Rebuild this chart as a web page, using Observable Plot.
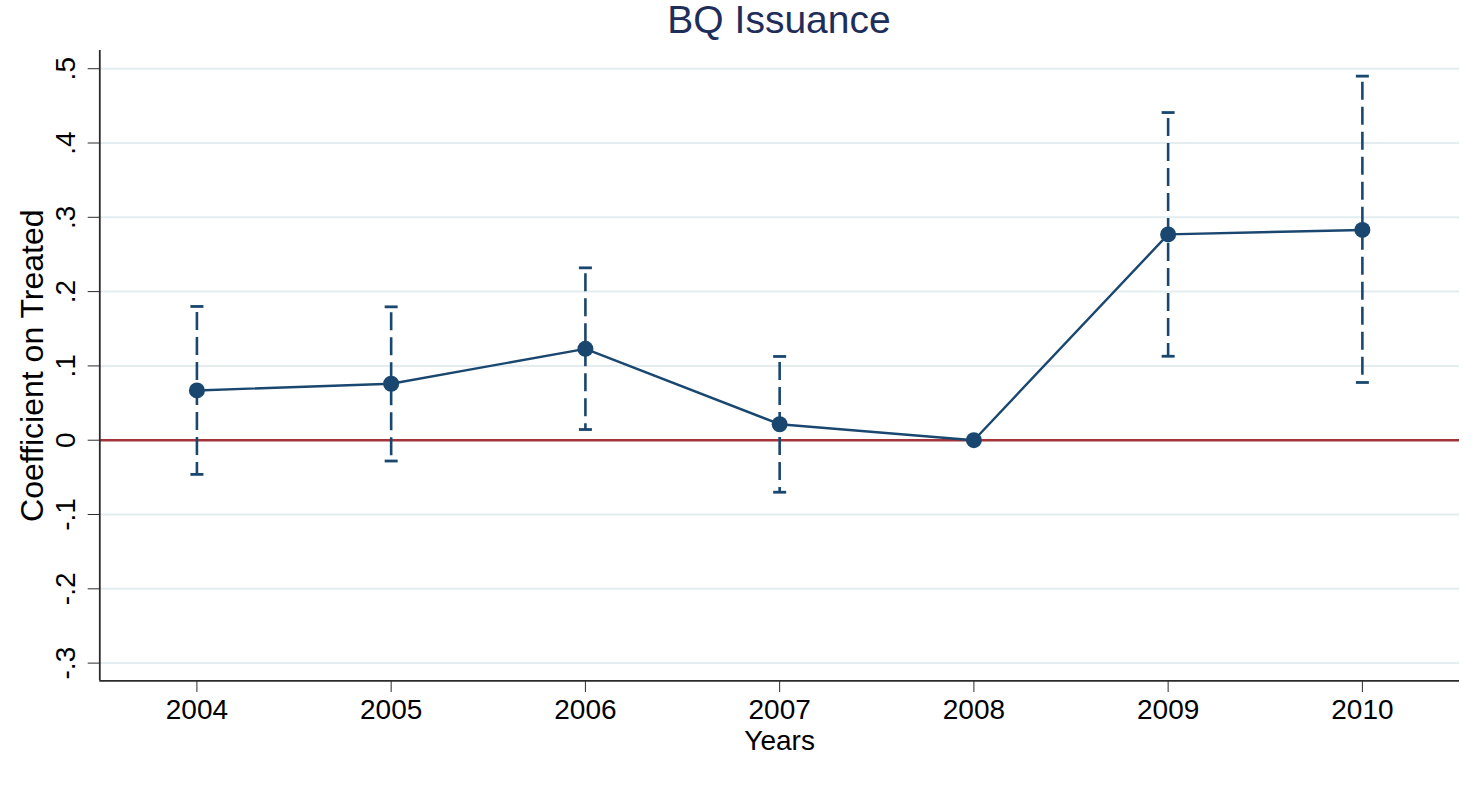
<!DOCTYPE html>
<html>
<head>
<meta charset="utf-8">
<script src="https://cdn.jsdelivr.net/npm/d3@7"></script>
<script src="https://cdn.jsdelivr.net/npm/@observablehq/plot@0.6"></script>
<style>
  html, body { margin: 0; padding: 0; background: #fff; }
  #wrap { width: 1476px; height: 808px; position: relative; font-family: "Liberation Sans", Arial, Helvetica, sans-serif; }
  #title { height: 40px; width: 1476px; position: relative; }
  #title span { position: absolute; left: 779px; top: 0; transform: translateX(-50%); font-size: 39px; line-height: 39px; color: #1e2d5a; white-space: nowrap; }
</style>
</head>
<body>
<div id="wrap">
  <div id="title"><span>BQ Issuance</span></div>
  <div id="chart"></div>
</div>
<script>
// Event-study coefficients on the treated group, 2008 is the omitted base year
const years = [2004, 2005, 2006, 2007, 2008, 2009, 2010];
const coef = [0.067, 0.076, 0.123, 0.0215, 0, 0.277, 0.283];
const ciLow = [-0.046, -0.028, 0.0144, -0.070, null, 0.113, 0.0777];
const ciHigh = [0.180, 0.1795, 0.232, 0.1127, null, 0.441, 0.490];

// Axis ticks and their labels
const yTicks = [-0.3, -0.2, -0.1, 0, 0.1, 0.2, 0.3, 0.4, 0.5];
const yTickLabels = ["-.3", "-.2", "-.1", "0", ".1", ".2", ".3", ".4", ".5"];
const xDomain = [2003.5, 2010.5];
const yDomain = [-0.3238, 0.5245];

const navy = "#1a476f";
const font = "Liberation Sans, Arial, Helvetica, sans-serif";

const points = years.map((year, i) => ({year, coef: coef[i], lo: ciLow[i], hi: ciHigh[i]}));
const intervals = points.filter(d => d.lo != null && d.hi != null);

// Short horizontal cap drawn at each end of a confidence interval
const capSymbol = {
  draw(context) {
    context.moveTo(-6.5, 0);
    context.lineTo(6.5, 0);
  }
};

const chart = Plot.plot({
  width: 1476,
  height: 768,
  marginLeft: 99.3,
  marginRight: 17,
  marginTop: 10,
  marginBottom: 127.7,
  style: {fontFamily: font, background: "#fff", color: "#000"},
  x: {domain: xDomain},
  y: {domain: yDomain},
  marks: [
    Plot.ruleY(yTicks.filter(v => v !== 0), {stroke: "#e3edf0", strokeWidth: 2}),
    Plot.ruleY([0], {stroke: "#a3353a", strokeWidth: 2.4}),
    Plot.ruleX([xDomain[0]], {stroke: "#2b2b2b", strokeWidth: 1.8}),
    Plot.ruleY([yDomain[0]], {stroke: "#2b2b2b", strokeWidth: 1.8}),
    Plot.axisX({ticks: years, tickFormat: d => String(d), tickSize: 11.7, tickPadding: 7, fontSize: 28, label: null, stroke: "#2b2b2b"}),
    Plot.axisY({ticks: yTicks, tickFormat: d => yTickLabels[yTicks.indexOf(d)], tickSize: 11.6, tickPadding: 13.5, tickRotate: -90, fontSize: 28, label: null, stroke: "#2b2b2b"}),
    Plot.text(["Years"], {text: d => d, frameAnchor: "bottom", dy: 68.7, lineAnchor: "bottom", fontSize: 28, fill: "#000"}),
    Plot.text(["Coefficient on Treated"], {text: d => d, frameAnchor: "left", dx: -57.3, rotate: -90, textAnchor: "middle", lineAnchor: "bottom", fontSize: 32, fill: "#000"}),
    Plot.ruleX(intervals, {x: "year", y1: "hi", y2: "lo", stroke: navy, strokeWidth: 2.6, strokeDasharray: "18,7", strokeDashoffset: 19}),
    Plot.dot(intervals, {x: "year", y: "hi", symbol: capSymbol, fill: "none", stroke: navy, strokeWidth: 2.8, r: 6}),
    Plot.dot(intervals, {x: "year", y: "lo", symbol: capSymbol, fill: "none", stroke: navy, strokeWidth: 2.8, r: 6}),
    Plot.line(points, {x: "year", y: "coef", stroke: navy, strokeWidth: 2.4}),
    Plot.dot(points, {x: "year", y: "coef", r: 8, fill: navy, stroke: "none"})
  ]
});

document.getElementById("chart").appendChild(chart);
</script>
</body>
</html>
